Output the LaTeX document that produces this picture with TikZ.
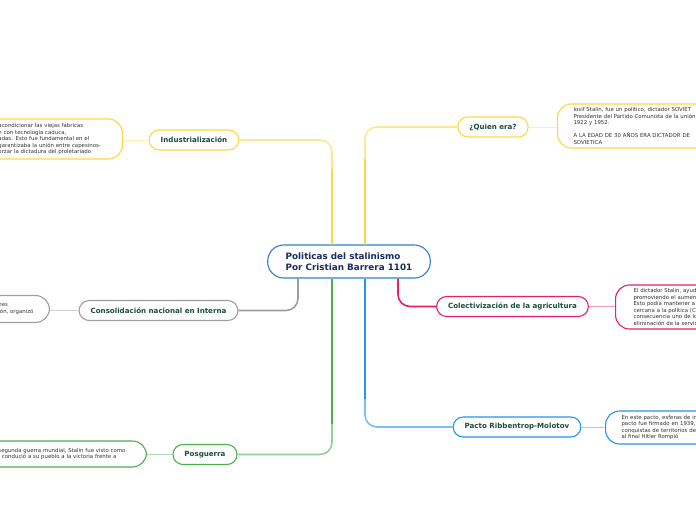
\documentclass[tikz,border=0pt]{standalone}
\usepackage{fontspec}
\setmainfont{DejaVu Sans}
\usetikzlibrary{positioning}

\definecolor{yellowc}{HTML}{FFD740}
\definecolor{grayc}{HTML}{9E9E9E}
\definecolor{greenc}{HTML}{4CAF50}
\definecolor{bluec}{HTML}{2196F3}
\definecolor{pinkc}{HTML}{E91E63}
\definecolor{centerc}{HTML}{2F7FD1}
\definecolor{titletext}{HTML}{1A2B5F}
\definecolor{topictext}{HTML}{1B4D3E}
\definecolor{notetext}{HTML}{333333}

\tikzset{
  central/.style={draw=centerc, line width=1.1pt, fill=white, rounded corners=16pt,
    minimum height=33pt, inner xsep=18pt, inner ysep=0pt, align=left,
    text=titletext, font=\fontsize{8.8}{11}\selectfont\bfseries},
  topic/.style={draw=#1, line width=1.1pt, fill=white, rounded corners=10pt,
    minimum height=20pt, inner xsep=11.5pt, inner ysep=0pt,
    text=topictext, font=\fontsize{7.1}{8}\selectfont\bfseries},
  note/.style={draw=#1, line width=1.1pt, fill=white, rounded corners=14pt,
    inner ysep=0pt, align=left, text=notetext,
    font=\fontsize{5.4}{6.5}\selectfont},
  branch/.style={line width=1.6pt, rounded corners=12pt},
  twig/.style={line width=1pt, draw=#1!45}
}

\begin{document}
\begin{tikzpicture}[x=1pt, y=-1pt]

  \useasboundingbox (0,0) rectangle (696,520);
  \fill[white] (0,0) rectangle (696,520);
  \clip (0,0) rectangle (696,520);

  % central topic
  \node[central] (stalin) at (349,261.5)
    {Politicas del stalinismo\\Por Cristian Barrera 1101};

  % main topics
  \node[topic=yellowc] (indus)  at (194,140)   {Industrialización};
  \node[topic=yellowc] (quien)  at (493,127)   {¿Quien era?};
  \node[topic=grayc]   (consol) at (158.5,310.5) {Consolidación nacional en Interna};
  \node[topic=pinkc]   (colect) at (512.5,306.5) {Colectivización de la agricultura};
  \node[topic=greenc]  (posg)   at (205,454.5) {Posguerra};
  \node[topic=bluec]   (pacto)  at (517,427)   {Pacto Ribbentrop-Molotov};

  % notes
  \node[note=yellowc, anchor=east, inner xsep=14pt, text width=110pt,
        minimum height=40pt] (indusTxt) at (123,139)
    {acondicionar las viejas fábricas\\
     n con tecnología caduca,\\
     adas. Esto fue fundamental en el\\
     garantizaba la unión entre capesinos-\\
     orzar la dictadura del proletariado};

  \node[note=yellowc, anchor=west, inner xsep=16pt, text width=150pt,
        minimum height=44pt] (quienTxt) at (557,126)
    {Iosif Stalin, fue un politico, dictador SOVIET\\
     Presidente del Partido Comunista de la unión\\
     1922 y 1952.\\[6.5pt]
     A LA EDAD DE 30 AÑOS ERA DICTADOR DE\\
     SOVIETICA};

  \node[note=grayc, anchor=east, inner xsep=14pt, text width=37pt,
        minimum height=27pt] (consolTxt) at (50,309)
    {nes\\
     ión, organizó};

  \node[note=pinkc, anchor=west, inner xsep=18pt, text width=120pt,
        minimum height=44pt] (colectTxt) at (615,307)
    {El dictador Stalin, ayud\\
     promoviendo el aumen\\
     Esto podía mantener a\\
     cercana a la política (C\\
     consecuencia uno de lo\\
     eliminación de la servic};

  \node[note=greenc, anchor=east, inner xsep=14pt, text width=134pt,
        minimum height=26pt] (posgTxt) at (147,454)
    {segunda guerra mundial, Stalin fue visto como\\
     , condució a su pueblo a la victoria frente a};

  \node[note=bluec, anchor=west, inner xsep=16pt, text width=120pt,
        minimum height=33pt] (pactoTxt) at (605,427.5)
    {En este pacto, esferas de in\\
     pacto fue firmado en 1939,\\
     conquistas de territorios de\\
     al final Hitler Rompió};

  % branches from the central topic
  \draw[branch, yellowc!60] ([xshift=-17pt]stalin.north) |- (indus.east);
  \draw[branch, yellowc]    ([xshift=-17pt]stalin.north) -- ++(0,-75);
  \draw[branch, yellowc!60] ([xshift=16pt]stalin.north) |- (quien.west);
  \draw[branch, yellowc]    ([xshift=16pt]stalin.north) -- ++(0,-85);
  \draw[branch, grayc]      ([xshift=-51pt]stalin.south) |- (consol.east);
  \draw[branch, greenc!60]  ([xshift=-17pt]stalin.south) |- (posg.east);
  \draw[branch, greenc]     ([xshift=-17pt]stalin.south) -- ++(0,145);
  \draw[branch, bluec!60]   ([xshift=16pt]stalin.south) |- (pacto.west);
  \draw[branch, bluec]      ([xshift=16pt]stalin.south) -- ++(0,120);
  \draw[branch, pinkc]      ([xshift=49pt]stalin.south) |- (colect.west);

  % topic to note
  \draw[twig=yellowc] (indus.west)  -- (indus.west -| indusTxt.east);
  \draw[twig=yellowc] (quien.east)  -- (quien.east -| quienTxt.west);
  \draw[twig=grayc]   (consol.west) -- (consol.west -| consolTxt.east);
  \draw[twig=pinkc]   (colect.east) -- (colect.east -| colectTxt.west);
  \draw[twig=greenc]  (posg.west)   -- (posg.west -| posgTxt.east);
  \draw[twig=bluec]   (pacto.east)  -- (pacto.east -| pactoTxt.west);

\end{tikzpicture}
\end{document}
